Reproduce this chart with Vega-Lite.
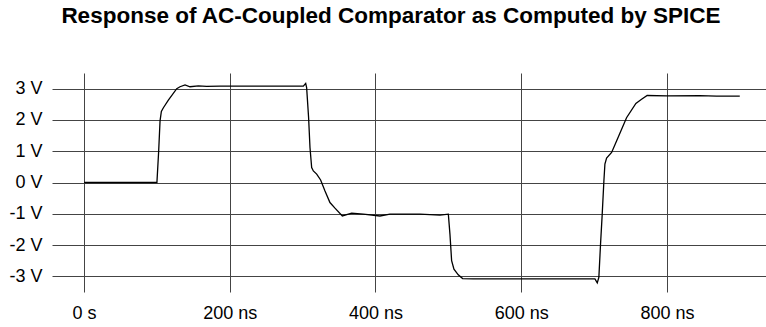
{
  "$schema": "https://vega.github.io/schema/vega-lite/v6.json",
  "width": 714,
  "height": 219,
  "autosize": "none",
  "padding": {"left": 52, "top": 73, "right": 0, "bottom": 35},
  "background": "white",
  "title": {
    "text": "Response of AC-Coupled Comparator as Computed by SPICE",
    "font": "Liberation Sans",
    "fontSize": 22.5,
    "fontWeight": "bold",
    "color": "black",
    "offset": 46,
    "dx": -18
  },
  "config": {"view": {"stroke": null}},
  "data": {
    "values": [
      {"t": 0, "v": 0},
      {"t": 100, "v": 0},
      {"t": 102.4, "v": 1.0},
      {"t": 104.3, "v": 1.97},
      {"t": 106.1, "v": 2.27},
      {"t": 108.9, "v": 2.39},
      {"t": 115.7, "v": 2.63},
      {"t": 127.2, "v": 3.0},
      {"t": 131.7, "v": 3.06},
      {"t": 138.6, "v": 3.12},
      {"t": 145.4, "v": 3.06},
      {"t": 156.9, "v": 3.09},
      {"t": 168.3, "v": 3.07},
      {"t": 186.6, "v": 3.08},
      {"t": 240, "v": 3.08},
      {"t": 301, "v": 3.08},
      {"t": 304.2, "v": 3.17},
      {"t": 305.5, "v": 3.03},
      {"t": 308.2, "v": 2.07},
      {"t": 310.1, "v": 1.12},
      {"t": 312.4, "v": 0.48},
      {"t": 314.7, "v": 0.37},
      {"t": 319.3, "v": 0.27},
      {"t": 324.7, "v": 0.08},
      {"t": 330.7, "v": -0.27},
      {"t": 337.5, "v": -0.64},
      {"t": 344.4, "v": -0.82},
      {"t": 354.5, "v": -1.07},
      {"t": 367.3, "v": -0.98},
      {"t": 383.3, "v": -1.01},
      {"t": 406.1, "v": -1.07},
      {"t": 419.9, "v": -1.01},
      {"t": 461, "v": -1.01},
      {"t": 488.5, "v": -1.04},
      {"t": 500, "v": -1.01},
      {"t": 502.2, "v": -1.65},
      {"t": 504.5, "v": -2.5},
      {"t": 507.7, "v": -2.77},
      {"t": 513.6, "v": -2.95},
      {"t": 519.6, "v": -3.07},
      {"t": 534.2, "v": -3.08},
      {"t": 600, "v": -3.08},
      {"t": 701.2, "v": -3.08},
      {"t": 704.4, "v": -3.21},
      {"t": 706.6, "v": -3.03},
      {"t": 708.9, "v": -1.97},
      {"t": 711.2, "v": -1.01},
      {"t": 713.5, "v": 0.05},
      {"t": 714.9, "v": 0.59},
      {"t": 717.2, "v": 0.78},
      {"t": 724.1, "v": 0.96},
      {"t": 730.9, "v": 1.33},
      {"t": 744.6, "v": 2.07},
      {"t": 757.4, "v": 2.53},
      {"t": 765.2, "v": 2.66},
      {"t": 772.9, "v": 2.78},
      {"t": 800, "v": 2.77},
      {"t": 845, "v": 2.78},
      {"t": 868, "v": 2.76},
      {"t": 900, "v": 2.76}
    ]
  },
  "mark": {"type": "line", "color": "black", "strokeWidth": 1.3, "clip": false},
  "encoding": {
    "x": {
      "field": "t",
      "type": "quantitative",
      "scale": {"domain": [-44, 936], "nice": false, "zero": false},
      "axis": {
        "title": null,
        "values": [0, 200, 400, 600, 800],
        "labelExpr": "datum.value == 0 ? '0 s' : datum.value + ' ns'",
        "domain": false,
        "ticks": false,
        "grid": true,
        "gridColor": "#444",
        "gridOpacity": 1,
        "gridWidth": 1,
        "labelFont": "Liberation Sans",
        "labelFontSize": 18,
        "labelColor": "black",
        "labelPadding": 12,
        "labelFlush": false,
        "labelOverlap": false
      }
    },
    "y": {
      "field": "v",
      "type": "quantitative",
      "scale": {"domain": [-3.5, 3.5], "nice": false, "zero": false},
      "axis": {
        "title": null,
        "values": [-3, -2, -1, 0, 1, 2, 3],
        "labelExpr": "datum.value + ' V'",
        "domain": false,
        "ticks": false,
        "grid": true,
        "gridColor": "#444",
        "gridOpacity": 1,
        "gridWidth": 1,
        "labelFont": "Liberation Sans",
        "labelFontSize": 18,
        "labelColor": "black",
        "labelPadding": 10,
        "labelFlush": false,
        "labelOverlap": false
      }
    }
  }
}
